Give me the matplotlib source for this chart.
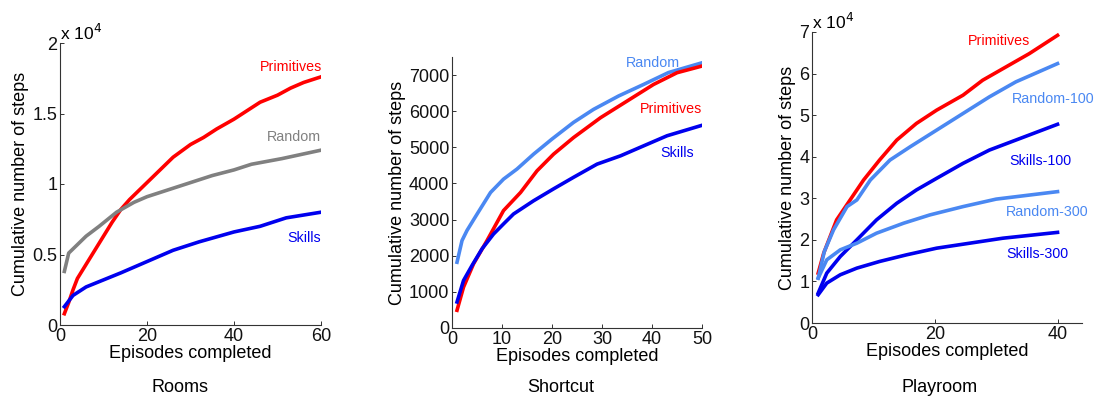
import matplotlib
matplotlib.use("Agg")
import matplotlib.pyplot as plt
import numpy as np

plt.rcParams['font.family'] = ['Liberation Sans', 'DejaVu Sans']

RED = '#ff0000'
BLUE = '#0000ee'
LIGHT = '#4a88f2'
GRAY = '#808080'

# Rooms
rooms_x = [1, 2, 3, 4, 5, 6, 8, 10, 12, 14, 16, 18, 20, 23, 26, 30, 33, 36, 40, 43, 46, 50, 53, 56, 60]
rooms_prim = [800, 1600, 2500, 3300, 3800, 4300, 5300, 6300, 7300, 8200, 8900, 9500, 10100, 11000,
              11900, 12800, 13300, 13900, 14600, 15200, 15800, 16300, 16800, 17200, 17600]
rooms_rand_x = [1, 2, 4, 6, 9, 13, 17, 20, 23, 29, 35, 40, 44, 51, 60]
rooms_rand = [3800, 5100, 5700, 6300, 7000, 8000, 8700, 9100, 9400, 10000, 10600, 11000, 11400, 11800, 12400]
rooms_skill_x = [1, 3, 6, 10, 14, 20, 26, 32, 40, 46, 52, 60]
rooms_skill = [1300, 2100, 2700, 3200, 3700, 4500, 5300, 5900, 6600, 7000, 7600, 8000]

# Shortcut
sc_rand_x = [1, 2, 3, 5, 7.7, 10.3, 13, 16.3, 20, 24.3, 28.3, 33.3, 38.3, 43.3, 50]
sc_rand = [1820, 2420, 2700, 3150, 3750, 4120, 4400, 4810, 5230, 5690, 6050, 6420, 6740, 7070, 7340]
sc_prim_x = [1, 2.3, 4.3, 7, 10.3, 13.7, 17, 20.3, 24.3, 29.7, 35, 40.3, 45, 50]
sc_prim = [490, 1130, 1775, 2420, 3250, 3750, 4350, 4810, 5270, 5820, 6280, 6740, 7065, 7250]
sc_skill_x = [1, 2.3, 4, 6, 8.3, 10.3, 12.3, 16.3, 20.3, 24.3, 29, 33.7, 38.3, 43, 50]
sc_skill = [720, 1315, 1730, 2190, 2600, 2880, 3155, 3520, 3850, 4170, 4535, 4765, 5040, 5320, 5610]

# Playroom
pr_prim_x = [1, 1.9, 4, 6.2, 8.4, 11, 13.8, 17, 20.3, 24.6, 27.8, 31.6, 35.4, 40]
pr_prim = [12000, 16800, 24800, 29600, 34400, 39200, 44000, 48000, 51200, 54800, 58400, 61600, 64800, 69200]
pr_r100_x = [1, 2, 3.5, 5.7, 7.3, 9.5, 12.7, 16, 20.3, 24.6, 28.9, 33.2, 40]
pr_r100 = [10800, 17200, 22400, 28000, 29600, 34400, 39200, 42400, 46400, 50400, 54400, 58000, 62400]
pr_s100_x = [1, 2.4, 4.6, 7.3, 10.5, 13.8, 17, 20.3, 24.6, 28.9, 33.2, 40]
pr_s100 = [7200, 12000, 16000, 20000, 24800, 28800, 32000, 34800, 38400, 41600, 44000, 47800]
pr_r300_x = [1, 2.4, 4.6, 7.3, 10.5, 14.9, 19.2, 24.6, 30, 40]
pr_r300 = [10800, 15200, 17600, 19200, 21600, 24000, 26000, 28000, 29800, 31600]
pr_s300_x = [1, 2.4, 4.6, 7.3, 11, 15.4, 20.3, 25.7, 31.1, 40]
pr_s300 = [6800, 9600, 11600, 13200, 14800, 16400, 18000, 19200, 20400, 21800]

fig = plt.figure(figsize=(10.99, 4.0), dpi=100)

ax1 = fig.add_axes([0.0546, 0.1875, 0.2375, 0.705])
ax2 = fig.add_axes([0.4113, 0.18, 0.2275, 0.6775])
ax3 = fig.add_axes([0.7389, 0.1925, 0.2457, 0.7275])

LW = 2.6
ax1.plot(rooms_x, np.array(rooms_prim) / 1e4, color=RED, lw=LW)
ax1.plot(rooms_rand_x, np.array(rooms_rand) / 1e4, color=GRAY, lw=LW)
ax1.plot(rooms_skill_x, np.array(rooms_skill) / 1e4, color=BLUE, lw=LW)
ax1.set_xlim(0, 60)
ax1.set_ylim(0, 2)
ax1.set_xticks([0, 20, 40, 60])
ax1.set_yticks([0, 0.5, 1, 1.5, 2])
ax1.set_yticklabels(['0', '0.5', '1', '1.5', '2'])
ax1.text(60.3, 1.83, 'Primitives', color=RED, ha='right', va='center', fontsize=10.3)
ax1.text(60.0, 1.33, 'Random', color=GRAY, ha='right', va='center', fontsize=10.3)
ax1.text(60.0, 0.62, 'Skills', color=BLUE, ha='right', va='center', fontsize=10.3)
ax1.text(0.0, 1.0, r'x 10$^4$', transform=ax1.transAxes, ha='left', va='bottom', fontsize=12.5)

ax2.plot(sc_rand_x, sc_rand, color=LIGHT, lw=LW)
ax2.plot(sc_prim_x, sc_prim, color=RED, lw=LW)
ax2.plot(sc_skill_x, sc_skill, color=BLUE, lw=LW)
ax2.set_xlim(0, 50)
ax2.set_ylim(0, 7500)
ax2.set_xticks(range(0, 51, 10))
ax2.set_yticks(range(0, 7001, 1000))
ax2.text(45.6, 7330, 'Random', color=LIGHT, ha='right', va='center', fontsize=10.3)
ax2.text(50.0, 6060, 'Primitives', color=RED, ha='right', va='center', fontsize=10.3)
ax2.text(48.3, 4850, 'Skills', color=BLUE, ha='right', va='center', fontsize=10.3)

ax3.plot(pr_prim_x, np.array(pr_prim) / 1e4, color=RED, lw=LW)
ax3.plot(pr_r100_x, np.array(pr_r100) / 1e4, color=LIGHT, lw=LW)
ax3.plot(pr_s100_x, np.array(pr_s100) / 1e4, color=BLUE, lw=LW)
ax3.plot(pr_r300_x, np.array(pr_r300) / 1e4, color=LIGHT, lw=LW)
ax3.plot(pr_s300_x, np.array(pr_s300) / 1e4, color=BLUE, lw=LW)
ax3.set_xlim(0, 44)
ax3.set_ylim(0, 7)
ax3.set_xticks([0, 20, 40])
ax3.set_yticks(range(0, 8))
ax3.text(35.6, 6.78, 'Primitives', color=RED, ha='right', va='center', fontsize=10.3)
ax3.text(46.1, 5.4, 'Random-100', color=LIGHT, ha='right', va='center', fontsize=10.3, clip_on=False)
ax3.text(42.2, 3.9, 'Skills-100', color=BLUE, ha='right', va='center', fontsize=10.3)
ax3.text(45.0, 2.68, 'Random-300', color=LIGHT, ha='right', va='center', fontsize=10.3, clip_on=False)
ax3.text(41.8, 1.66, 'Skills-300', color=BLUE, ha='right', va='center', fontsize=10.3)
ax3.text(0.0, 1.0, r'x 10$^4$', transform=ax3.transAxes, ha='left', va='bottom', fontsize=12.5)

for ax in (ax1, ax2, ax3):
    ax.spines['top'].set_visible(False)
    ax.spines['right'].set_visible(False)
    for s in ('left', 'bottom'):
        ax.spines[s].set_color('#333333')
        ax.spines[s].set_linewidth(0.8)
    ax.tick_params(direction='in', length=3, width=0.6, labelsize=13, pad=2, colors='#111111')
    ax.set_xlabel('Episodes completed', fontsize=13, labelpad=0)
    ax.set_ylabel('Cumulative number of steps', fontsize=13, labelpad=2)

fig.text(0.164, 0.03, 'Rooms', ha='center', va='center', fontsize=13)
fig.text(0.51, 0.03, 'Shortcut', ha='center', va='center', fontsize=13)
fig.text(0.855, 0.03, 'Playroom', ha='center', va='center', fontsize=13)

fig.savefig('out.png', dpi=100)
